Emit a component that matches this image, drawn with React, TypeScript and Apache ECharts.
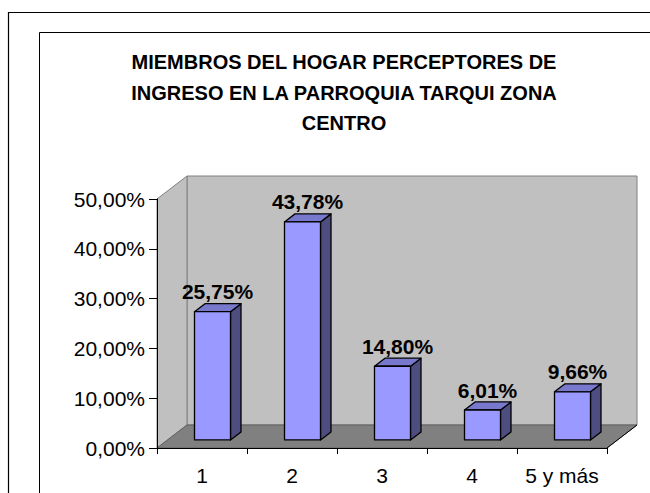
import React, { useEffect, useRef } from "react";
import * as echarts from "echarts";

const categories = ["1", "2", "3", "4", "5 y más"];
const values = [25.75, 43.78, 14.8, 6.01, 9.66];
const yMin = 0;
const yMax = 50;
const yInterval = 10;
const titleLines = [
  "MIEMBROS DEL HOGAR PERCEPTORES DE",
  "INGRESO EN LA PARROQUIA TARQUI ZONA",
  "CENTRO",
];

const FONT = '"Liberation Sans", Arial, Helvetica, sans-serif';
const DX = 30;
const DY = -23;
const F1 = 0.35;
const F2 = 0.7;

const fmtPct = (v: number) => v.toFixed(2).replace(".", ",") + "%";

export default function App() {
  const ref = useRef<HTMLDivElement>(null);
  useEffect(() => {
    if (!ref.current) return;
    const chart = echarts.init(ref.current, undefined, { renderer: "svg" });
    const titleY = [62, 92.5, 123];
    const option: any = {
      animation: false,
      backgroundColor: "#ffffff",
      grid: { left: 157, right: 43, top: 199, bottom: 45 },
      graphic: [
        {
          type: "rect",
          shape: { x: 8.5, y: 12.5, width: 700, height: 600 },
          style: { fill: "none", stroke: "#000", lineWidth: 1.2 },
          silent: true,
        },
        {
          type: "rect",
          shape: { x: 39.5, y: 32.5, width: 700, height: 600 },
          style: { fill: "none", stroke: "#000", lineWidth: 1 },
          silent: true,
        },
        ...titleLines.map((t, i) => ({
          type: "text",
          x: 344,
          y: titleY[i],
          style: {
            text: t,
            textAlign: "center",
            textVerticalAlign: "middle",
            font: `bold 20px ${FONT}`,
            fill: "#000",
          },
          silent: true,
        })),
      ],
      xAxis: {
        type: "category",
        data: categories,
        z: 10,
        axisLine: { show: true, lineStyle: { color: "#000", width: 1 } },
        axisTick: { show: true, length: 6, lineStyle: { color: "#000" } },
        axisLabel: {
          interval: 0,
          margin: 17,
          color: "#000",
          fontSize: 21,
          fontFamily: FONT,
        },
        splitLine: { show: false },
      },
      yAxis: {
        type: "value",
        min: yMin,
        max: yMax,
        interval: yInterval,
        z: 10,
        axisLine: { show: true, lineStyle: { color: "#000", width: 1 } },
        axisTick: { show: true, length: 8, lineStyle: { color: "#000" } },
        axisLabel: {
          margin: 12,
          color: "#000",
          fontSize: 21,
          fontFamily: FONT,
          formatter: (v: number) => fmtPct(v),
        },
        splitLine: { show: false },
      },
      series: [
        {
          type: "custom",
          z: 1,
          silent: true,
          clip: false,
          data: [[0, 0]],
          renderItem: (params: any) => {
            const cs = params.coordSys;
            const x0 = cs.x;
            const y0 = cs.y;
            const w = cs.width;
            const h = cs.height;
            return {
              type: "group",
              children: [
                {
                  type: "rect",
                  shape: { x: x0 + DX, y: y0 + DY, width: w, height: h },
                  style: { fill: "#C0C0C0", stroke: "#808080", lineWidth: 1 },
                },
                {
                  type: "polygon",
                  shape: {
                    points: [
                      [x0, y0],
                      [x0 + DX, y0 + DY],
                      [x0 + DX, y0 + h + DY],
                      [x0, y0 + h],
                    ],
                  },
                  style: { fill: "#C0C0C0", stroke: "#808080", lineWidth: 1 },
                },
                {
                  type: "polygon",
                  shape: {
                    points: [
                      [x0, y0 + h],
                      [x0 + DX, y0 + h + DY],
                      [x0 + w + DX, y0 + h + DY],
                      [x0 + w, y0 + h],
                    ],
                  },
                  style: { fill: "#808080", stroke: "#606060", lineWidth: 1 },
                },
                {
                  type: "line",
                  shape: { x1: x0 + w, y1: y0 + h, x2: x0 + w + DX, y2: y0 + h + DY },
                  style: { stroke: "#000", lineWidth: 1 },
                },
              ],
            };
          },
        },
        {
          type: "custom",
          z: 3,
          clip: false,
          data: values.map((v, i) => [i, v]),
          renderItem: (params: any, api: any) => {
            const idx = api.value(0);
            const v = api.value(1);
            const p0 = api.coord([idx, 0]);
            const p1 = api.coord([idx, v]);
            const band = api.size([1, 0])[0];
            const bw = band * 0.4;
            const fx = p0[0] - bw / 2 + DX * F1;
            const fyB = p0[1] + DY * F1;
            const fyT = p1[1] + DY * F1;
            const ddx = DX * (F2 - F1);
            const ddy = DY * (F2 - F1);
            const stroke = { stroke: "#000", lineWidth: 1.3, lineJoin: "round" };
            return {
              type: "group",
              children: [
                {
                  type: "polygon",
                  shape: {
                    points: [
                      [fx + bw, fyT],
                      [fx + bw + ddx, fyT + ddy],
                      [fx + bw + ddx, fyB + ddy],
                      [fx + bw, fyB],
                    ],
                  },
                  style: { fill: "#4D4D80", ...stroke },
                },
                {
                  type: "polygon",
                  shape: {
                    points: [
                      [fx, fyT],
                      [fx + ddx, fyT + ddy],
                      [fx + bw + ddx, fyT + ddy],
                      [fx + bw, fyT],
                    ],
                  },
                  style: { fill: "#7878CC", ...stroke },
                },
                {
                  type: "rect",
                  shape: { x: fx, y: fyT, width: bw, height: fyB - fyT },
                  style: { fill: "#9999FF", ...stroke },
                },
                {
                  type: "text",
                  x: fx + bw / 2 + 5,
                  y: fyT - 20,
                  style: {
                    text: fmtPct(v),
                    textAlign: "center",
                    textVerticalAlign: "middle",
                    font: `bold 21px ${FONT}`,
                    fill: "#000",
                  },
                },
              ],
            };
          },
        },
      ],
    };
    chart.setOption(option);
    return () => chart.dispose();
  }, []);
  return (
    <div
      ref={ref}
      style={{ position: "absolute", left: 0, top: 0, width: 650, height: 493 }}
    />
  );
}
